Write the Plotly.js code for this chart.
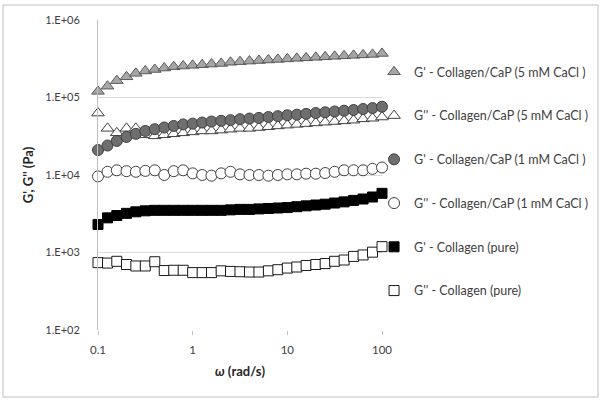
<!DOCTYPE html>
<html>
<head>
<meta charset="utf-8">
<script src="https://cdn.plot.ly/plotly-3.0.1.min.js"></script>
<style>html,body{margin:0;padding:0;background:#fff;}#chart{width:602px;height:403px;}</style>
</head>
<body>
<div id="chart"></div>
<script>
// Angular frequency (rad/s)
var omega = [0.1, 0.126, 0.158, 0.2, 0.251, 0.316, 0.398, 0.501, 0.631, 0.794,
             1, 1.26, 1.58, 2, 2.51, 3.16, 3.98, 5.01, 6.31, 7.94,
             10, 12.6, 15.8, 20, 25.1, 31.6, 39.8, 50.1, 63.1, 79.4, 100];

var gp5 = [1.2e5, 1.4e5, 1.65e5, 1.85e5, 2.05e5, 2.2e5, 2.3e5, 2.4e5, 2.5e5, 2.55e5,
           2.6e5, 2.65e5, 2.7e5, 2.75e5, 2.85e5, 2.9e5, 2.95e5, 3.0e5, 3.05e5, 3.1e5,
           3.15e5, 3.2e5, 3.25e5, 3.3e5, 3.35e5, 3.4e5, 3.45e5, 3.5e5, 3.55e5, 3.6e5, 3.7e5];

var gpp5 = [6.3e4, 4.0e4, 3.5e4, 4.0e4, 4.0e4, 3.3e4, 3.2e4, 3.3e4, 3.4e4, 3.5e4,
            3.6e4, 3.7e4, 3.7e4, 3.8e4, 3.9e4, 4.0e4, 4.0e4, 4.1e4, 4.2e4, 4.3e4,
            4.4e4, 4.5e4, 4.6e4, 4.7e4, 4.8e4, 4.9e4, 5.0e4, 5.1e4, 5.3e4, 5.4e4, 5.6e4];

var gp1 = [2.1e4, 2.4e4, 2.75e4, 3.1e4, 3.4e4, 3.7e4, 3.9e4, 4.1e4, 4.3e4, 4.5e4,
           4.6e4, 4.75e4, 4.9e4, 5.0e4, 5.1e4, 5.25e4, 5.35e4, 5.45e4, 5.6e4, 5.75e4,
           5.9e4, 6.0e4, 6.15e4, 6.3e4, 6.45e4, 6.6e4, 6.75e4, 6.9e4, 7.1e4, 7.3e4, 7.6e4];

var gpp1 = [9.6e3, 1.1e4, 1.15e4, 1.12e4, 1.1e4, 1.13e4, 1.15e4, 1.0e4, 1.12e4, 1.15e4,
            1.05e4, 1.0e4, 9.8e3, 1.05e4, 1.1e4, 1.02e4, 1.0e4, 1.0e4, 9.8e3, 1.0e4,
            1.02e4, 1.02e4, 1.04e4, 1.04e4, 1.06e4, 1.1e4, 1.15e4, 1.15e4, 1.15e4, 1.2e4, 1.25e4];

var gpPure = [2.3e3, 2.8e3, 3.0e3, 3.2e3, 3.35e3, 3.45e3, 3.5e3, 3.5e3, 3.5e3, 3.5e3,
              3.5e3, 3.5e3, 3.5e3, 3.5e3, 3.55e3, 3.6e3, 3.6e3, 3.65e3, 3.7e3, 3.75e3,
              3.8e3, 3.9e3, 4.0e3, 4.1e3, 4.2e3, 4.35e3, 4.5e3, 4.7e3, 4.9e3, 5.2e3, 5.8e3];

var gppPure = [740, 730, 770, 700, 670, 670, 760, 585, 590, 590,
               550, 550, 550, 580, 570, 565, 560, 560, 580, 600,
               630, 650, 680, 700, 720, 770, 800, 890, 930, 1010, 1190];

var seriesNames = [
  "G' - Collagen/CaP (5 mM CaCl )",
  "G'' - Collagen/CaP (5 mM CaCl )",
  "G' - Collagen/CaP (1 mM CaCl )",
  "G'' - Collagen/CaP (1 mM CaCl )",
  "G' - Collagen (pure)",
  "G'' - Collagen (pure)"
];

var yTickVals = [100, 1000, 10000, 100000, 1000000];
var yTickText = ["1.E+02", "1.E+03", "1.E+04", "1.E+05", "1.E+06"];
var xTickVals = [0.1, 1, 10, 100];
var xTickText = ["0.1", "1", "10", "100"];

function mk(y, name, symbol, fill, line, size, group) {
  return {
    x: omega, y: y, name: name, type: 'scatter', mode: 'markers',
    cliponaxis: false, legendgroup: group,
    marker: {symbol: symbol, size: size, color: fill, line: {color: line, width: 1}}
  };
}

var traces = [
  mk(gp5, seriesNames[0], 'triangle-up', '#a6a6a6', '#595959', 11, 'a'),
  mk(gpp5, seriesNames[1], 'triangle-up', '#ffffff', '#404040', 11, 'b'),
  mk(gp1, seriesNames[2], 'circle', '#6e6e6e', '#404040', 11, 'c'),
  mk(gpp1, seriesNames[3], 'circle', '#ffffff', '#404040', 11, 'd'),
  mk(gpPure, seriesNames[4], 'square', '#000000', '#000000', 10, 'e'),
  mk(gppPure, seriesNames[5], 'square', '#ffffff', '#1a1a1a', 10, 'f')
];

var layout = {
  width: 602, height: 403,
  margin: {l: 98, r: 220, t: 20, b: 73, autoexpand: false},
  paper_bgcolor: '#ffffff', plot_bgcolor: '#ffffff',
  font: {family: 'Lato, "Open Sans", sans-serif', color: '#404040', size: 11},
  showlegend: true,
  legend: {
    x: 0.972, xanchor: 'left', y: 0.88, yanchor: 'top',
    traceorder: 'grouped', tracegroupgap: 24.5,
    font: {size: 12.5, color: '#404040'},
    bgcolor: 'rgba(0,0,0,0)'
  },
  xaxis: {
    type: 'log', range: [-1, 2],
    tickvals: xTickVals, ticktext: xTickText,
    ticks: 'outside', ticklen: 4, tickcolor: '#bfbfbf',
    ticklabelstandoff: 5,
    showgrid: false, zeroline: false,
    showline: false,
    tickfont: {size: 11.5, color: '#404040'},
    title: {text: '<i>ω</i> (rad/s)', font: {size: 13, color: '#262626', family: 'Lato, sans-serif', weight: 'bold'}, standoff: 12}
  },
  yaxis: {
    type: 'log', range: [2, 6],
    tickvals: yTickVals, ticktext: yTickText,
    showgrid: true, gridcolor: '#d9d9d9', gridwidth: 1,
    showline: true, linecolor: '#bfbfbf', linewidth: 1,
    ticks: '', zeroline: false,
    tickfont: {size: 11, color: '#404040'},
    ticklabelstandoff: 15,
    title: {text: "G', G'' (Pa)", font: {size: 13, color: '#262626', family: 'Lato, sans-serif', weight: 'bold'}, standoff: 8}
  },
  shapes: [{
    type: 'rect', xref: 'paper', yref: 'paper', layer: 'below',
    x0: -0.3345, x1: 1.7606, y0: -0.2161, y1: 1.0484,
    line: {color: '#bfbfbf', width: 1}, fillcolor: 'rgba(0,0,0,0)'
  }]
};

Plotly.newPlot('chart', traces, layout, {displayModeBar: false, staticPlot: true});
</script>
</body>
</html>
